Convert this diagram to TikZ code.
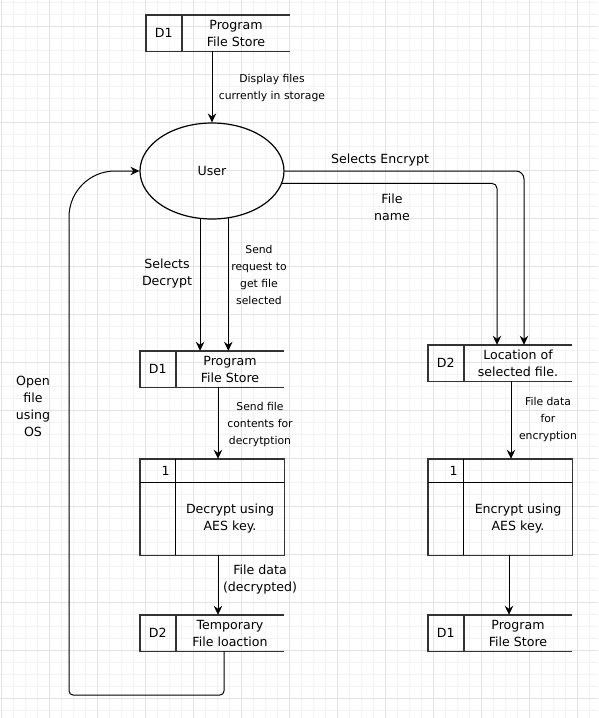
\documentclass[tikz,border=0pt]{standalone}
\usepackage{fontspec}
\setmainfont{DejaVu Sans}
\usetikzlibrary{arrows.meta,shapes.geometric,positioning}
\definecolor{gridminor}{HTML}{F3F3F3}
\definecolor{gridmajor}{HTML}{E3E3E3}
\tikzset{
	flow/.style={draw=black, line width=1pt, -{Stealth[length=9pt,width=8.5pt,inset=3pt]}},
	line/.style={draw=black, line width=1pt},
	frame/.style={draw=black!80, line width=1.4pt},
	boxtext/.style={font=\fontsize{12.6}{17}\selectfont, align=center, inner sep=0pt},
	note/.style={font=\fontsize{10.8}{17}\selectfont, align=center, inner sep=0pt},
	storebox/.style={boxtext, minimum width=108pt, minimum height=36pt},
	procbody/.style={boxtext, minimum width=108pt, minimum height=72pt},
}
\def\storeframe(#1)#2{%
	\draw[frame] (#1.north east) -- ([xshift=-36pt]#1.north west) -- ([xshift=-36pt]#1.south west) -- (#1.south east);
	\draw[frame] (#1.north west) -- (#1.south west);
	\node[boxtext] (#1-id) at ([xshift=-18pt]#1.west) {#2};
}
\def\procframe(#1)#2{%
	\draw[frame] ([xshift=-36pt,yshift=24pt]#1.north west) rectangle (#1.south east);
	\draw[line] ([xshift=-36pt]#1.north west) -- (#1.north east);
	\draw[line] ([yshift=24pt]#1.north west) -- (#1.south west);
	\node[boxtext, anchor=east] (#1-id) at ([xshift=-6pt,yshift=12pt]#1.north west) {#2};
}

\begin{document}
\begin{tikzpicture}[x=1pt, y=-1pt]
	%%%%% GRID %%%%%
	\useasboundingbox (0,0) rectangle (598,718);
	\fill[white] (0,0) rectangle (598,718);
	\foreach \gx in {1,13,...,597} \draw[gridminor, line width=0.8pt] (\gx,0) -- (\gx,718);
	\foreach \gy in {2,14,...,710} \draw[gridminor, line width=0.8pt] (0,\gy) -- (598,\gy);
	\foreach \gx in {1,49,...,577} \draw[gridmajor, line width=0.8pt] (\gx,0) -- (\gx,718);
	\foreach \gy in {26,74,...,698} \draw[gridmajor, line width=0.8pt] (0,\gy) -- (598,\gy);
	
	%%%%% START %%%%%
	
	\node[storebox] (fsTop) at (236,33) {Program\\File Store};
	\storeframe(fsTop){D1}
	
	\node[ellipse, draw, line width=1.2pt, minimum width=144pt, minimum height=96pt, boxtext] (user) at (212,171) {User};
	
	\node[storebox] (fsMid) at (230,369) {Program\\File Store};
	\storeframe(fsMid){D1}
	\node[storebox] (locSel) at (518,363) {Location of\\selected file.};
	\storeframe(locSel){D2}
	
	\node[procbody] (decrypt) at (230,519) {Decrypt using\\AES key.};
	\procframe(decrypt){1}
	\node[procbody] (encrypt) at (518,519) {Encrypt using\\AES key.};
	\procframe(encrypt){1}
	
	\node[storebox] (tmpLoc) at (230,633) {Temporary\\File loaction};
	\storeframe(tmpLoc){D2}
	\node[storebox] (fsEnd) at (518,633) {Program\\File Store};
	\storeframe(fsEnd){D1}
	
	% flows
	\draw[flow] (fsTop.south -| user) -- (user);
	\draw[flow] (user.-104) -- (user.-104 |- fsMid.north);
	\draw[flow] (user.-71) -- (user.-71 |- fsMid.north);
	\draw[flow, rounded corners=8pt] (user.east) -| ([xshift=6pt]locSel.north);
	\draw[flow, rounded corners=5pt] (user.-10) -| ([xshift=-21pt]locSel.north);
	\draw[flow] ([xshift=-12pt]fsMid.south) -- ([xshift=-12pt,yshift=24pt]decrypt.north);
	\draw[flow] ([xshift=-12pt]decrypt.south) -- ([xshift=-12pt]tmpLoc.north);
	\draw[flow] ([xshift=-7pt]locSel.south) -- ([xshift=-7pt,yshift=24pt]encrypt.north);
	\draw[flow] ([xshift=-9pt]encrypt.south) -- ([xshift=-9pt]fsEnd.north);
	
	% back to the user
	\coordinate (loopCorner) at (69,695);
	\coordinate (loopMid) at (69,400);
	\draw[line, rounded corners=4pt] ([xshift=-6pt]tmpLoc.south) |- (loopCorner) -- (loopMid);
	\draw[flow, rounded corners=46pt] (loopMid) |- (user.west);
	
	% labels
	\node[note] (lblDisplay) at (272,88.5) {Display files\\currently in storage};
	\node[boxtext] (lblEncrypt) at (380,160) {Selects Encrypt};
	\node[boxtext] (lblName) at (392,207.5) {File\\name};
	\node[boxtext] (lblDecrypt) at (167,274) {Selects\\Decrypt};
	\node[note] (lblRequest) at (259,275) {Send\\request to\\get file\\selected};
	\node[note] (lblContents) at (260,425) {Send file\\contents for\\decrytption};
	\node[note] (lblForEnc) at (548,419.5) {File data\\for\\encryption};
	\node[boxtext] (lblDecData) at (260,579.5) {File data\\(decrypted)};
	\node[boxtext] (lblOpen) at (33,406.5) {Open\\file\\using\\OS};
	
	%%%%% END %%%%%
\end{tikzpicture}
\end{document}
